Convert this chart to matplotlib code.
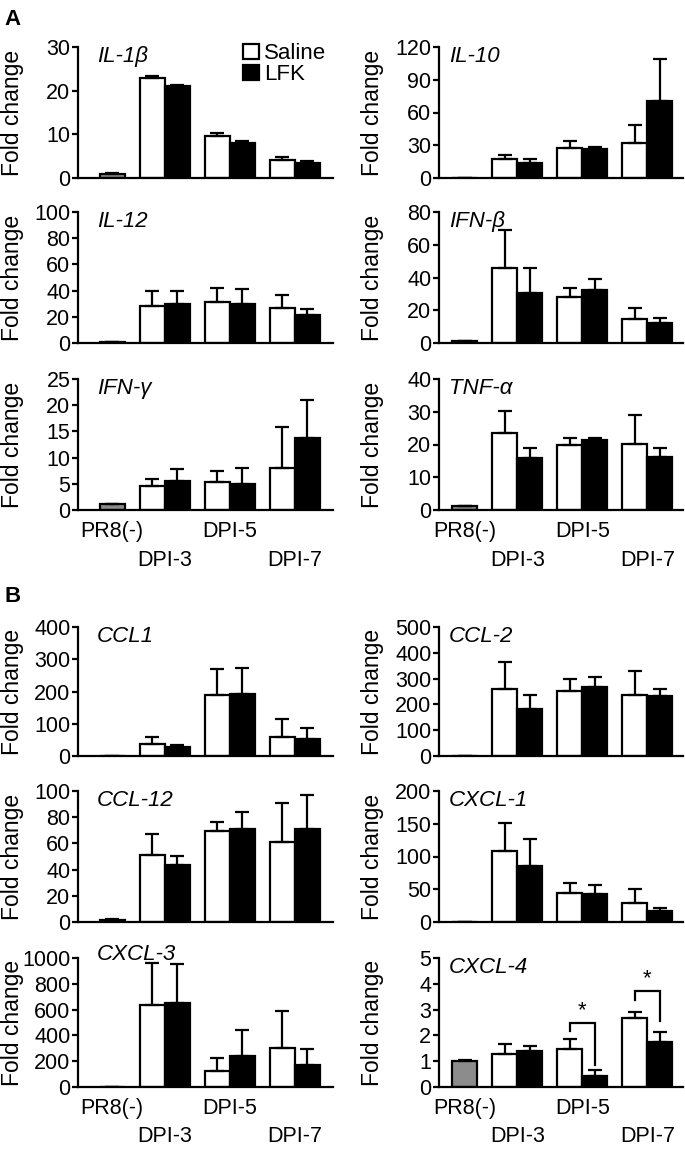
import matplotlib
matplotlib.use("Agg")
import matplotlib.pyplot as plt
from matplotlib.patches import Patch

plt.rcParams["font.family"] = ["Liberation Sans", "DejaVu Sans"]

# gene panels, read left->right, top->bottom
genes = ["IL-1β", "IL-10", "IL-12", "IFN-β", "IFN-γ", "TNF-α",
         "CCL1", "CCL-2", "CCL-12", "CXCL-1", "CXCL-3", "CXCL-4"]
y_max = [30, 120, 100, 80, 25, 40, 400, 500, 100, 200, 1000, 5]
y_step = [10, 30, 20, 20, 5, 10, 100, 100, 20, 50, 200, 1]

# PR8(-) control (mean, sem)
pr8_mean = [1.0, 0, 1.0, 1.2, 1.1, 1.2, 0, 0, 1.5, 0, 0, 0.99]
pr8_sem = [0.2, 0, 0.1, 0.1, 0.1, 0.1, 0, 0, 0.5, 0, 0, 0.04]

# DPI-3, DPI-5, DPI-7
saline_mean = [[22.9, 9.7, 4.2], [17.7, 27.6, 32.2], [28.4, 31.4, 26.6],
               [45.7, 28.1, 14.6], [4.5, 5.4, 8.1], [23.5, 19.8, 20.1],
               [36, 190, 59], [258, 253, 238], [51.4, 69.5, 61],
               [109, 44, 29], [636, 125, 306], [1.28, 1.47, 2.67]]
saline_sem = [[0.4, 0.6, 0.5], [3.7, 6.5, 16.5], [11.6, 10.9, 10.4],
              [23.2, 5.7, 6.5], [1.4, 2.0, 7.65], [6.6, 2.1, 8.8],
              [23, 80, 57], [108, 44, 91], [16, 6.8, 30],
              [42.6, 16, 21], [325, 103, 284], [0.40, 0.39, 0.25]]
lfk_mean = [[21.0, 8.0, 3.4], [13.3, 26.4, 70.4], [29.6, 29.6, 21.0],
            [30.8, 32.2, 12.3], [5.5, 4.9, 13.65], [15.9, 21.4, 16.2],
            [28, 193, 52], [183, 267, 231], [43.8, 71, 71],
            [85, 43, 16.8], [649, 239, 169], [1.38, 0.42, 1.74]]
lfk_sem = [[0.35, 0.4, 0.5], [3.7, 1.8, 38.4], [10.4, 11.7, 4.6],
           [15.2, 6.8, 3.1], [2.3, 3.1, 7.35], [3.1, 0.6, 2.8],
           [7, 80, 36], [55, 38, 30], [6.6, 13, 25.7],
           [41.7, 13, 4.6], [304, 202, 122], [0.20, 0.22, 0.40]]

groups = ["PR8(-)", "DPI-3", "DPI-5", "DPI-7"]

x_pr8 = 0.0
x_sal = [1.6, 4.2, 6.8]
x_lfk = [2.6, 5.2, 7.8]
x_grp = [0.0, 2.1, 4.7, 7.3]

W, H = 685, 1149
fig = plt.figure(figsize=(W / 100, H / 100), dpi=100)

rows_px = [(47, 178), (212, 343), (379, 510), (627, 756), (791, 922), (958, 1087)]
cols_px = [(78, 333, -1.36, 8.84), (439, 683, -1.04, 8.72)]

lw = 1.6
for i, g in enumerate(genes):
    r, c = divmod(i, 2)
    top, bot = rows_px[r]
    left, right, x0, x1 = cols_px[c]
    ax = fig.add_axes([left / W, 1 - bot / H, (right - left) / W, (bot - top) / H])

    ax.bar(x_pr8, pr8_mean[i], width=1.0, color="#8c8c8c", edgecolor="black", linewidth=lw)
    ax.bar(x_sal, saline_mean[i], width=1.0, color="white", edgecolor="black", linewidth=lw)
    ax.bar(x_lfk, lfk_mean[i], width=1.0, color="black", edgecolor="black", linewidth=lw)
    xs = [x_pr8] + x_sal + x_lfk
    ms = [pr8_mean[i]] + saline_mean[i] + lfk_mean[i]
    es = [pr8_sem[i]] + saline_sem[i] + lfk_sem[i]
    ax.errorbar(xs, ms, yerr=[[0] * len(es), es], fmt="none", ecolor="black",
                elinewidth=lw, capsize=5, capthick=lw)

    ax.set_xlim(x0, x1)
    ax.set_ylim(0, y_max[i])
    ax.set_yticks(range(0, y_max[i] + 1, y_step[i]))
    ax.set_xticks([])
    for s in ["top", "right"]:
        ax.spines[s].set_visible(False)
    for s in ["left", "bottom"]:
        ax.spines[s].set_linewidth(lw)
    ax.tick_params(axis="y", length=4, width=lw, labelsize=15.5, pad=1.5)
    ax.set_ylabel("Fold change", fontsize=16.5)
    wpx = right - left
    ax.yaxis.set_label_coords(-(54 if c == 0 else 55) / wpx, 0.5)

    tx = (19 if c == 0 else 10) / wpx
    ty = 1.11 if g == "CXCL-3" else 1.01
    ax.text(tx, ty, g, transform=ax.transAxes, fontsize=16, style="italic",
            ha="left", va="top")

    if r in (2, 5):
        trans = ax.get_xaxis_transform()
        for k, lab in enumerate(groups):
            yy = -0.085 if k % 2 == 0 else -0.305
            ax.text(x_grp[k], yy, lab, transform=trans, fontsize=15.5,
                    ha="center", va="top")

    if i == 0:
        ax.legend(handles=[Patch(facecolor="white", edgecolor="black", linewidth=lw),
                           Patch(facecolor="black", edgecolor="black", linewidth=lw)],
                  labels=["Saline", "LFK"], loc="upper left",
                  bbox_to_anchor=(165 / wpx, 1.03), frameon=False, fontsize=16,
                  handlelength=0.7, handleheight=0.7, handletextpad=0.25,
                  labelspacing=0.0, borderaxespad=0, borderpad=0)

    if g == "CXCL-4":
        # significance brackets at DPI-5 and DPI-7
        brackets = [(x_sal[1], x_lfk[1], 2.17, 2.47, 0.86),
                    (x_sal[2], x_lfk[2], 3.36, 3.71, 2.57)]
        for xa, xb, ya, yt, yb in brackets:
            ax.plot([xa, xa, xb, xb], [ya, yt, yt, yb], color="black", lw=lw,
                    solid_joinstyle="miter")
            ax.text((xa + xb) / 2, yt + 0.08, "*", fontsize=16, ha="center", va="bottom")

fig.text(4 / W, 1 - 9 / H, "A", fontsize=16, fontweight="bold", va="top")
fig.text(4 / W, 1 - 586 / H, "B", fontsize=16, fontweight="bold", va="top")

fig.savefig("out.png", dpi=100)
